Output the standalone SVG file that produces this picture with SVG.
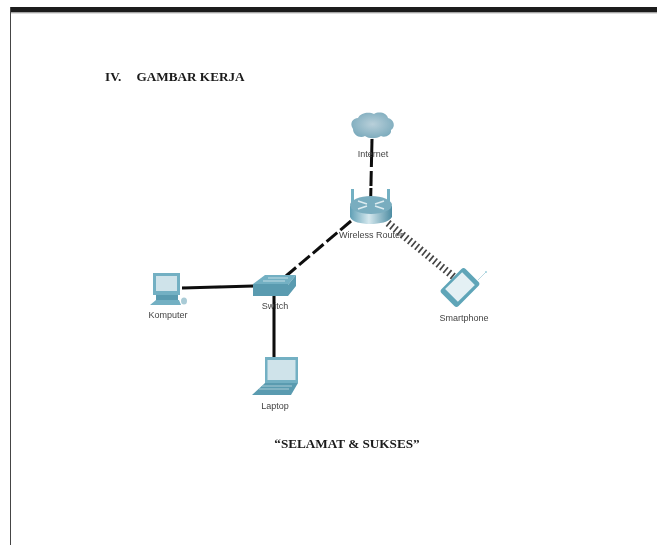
<svg xmlns="http://www.w3.org/2000/svg" width="657" height="545" viewBox="0 0 657 545">
<defs>
<style>
.lbl{font-family:"Liberation Sans",Arial,sans-serif;font-size:9px;fill:#444;text-anchor:middle}
.head{font-family:"Liberation Serif","Times New Roman",serif;font-size:13.2px;font-weight:bold;fill:#1a1a1a}
.line{stroke:#0c0c0c;stroke-width:3;fill:none}
.dk{fill:#5a9bb0}.md{fill:#73b0c3}.lt{fill:#cfe3ea}
</style>
<linearGradient id="rt" x1="0" x2="1" y1="0" y2="0"><stop offset="0" stop-color="#5f9fb5"/><stop offset=".45" stop-color="#d5e8ee"/><stop offset="1" stop-color="#4d8ca2"/></linearGradient>
<radialGradient id="cl" cx=".5" cy=".45" r=".6"><stop offset="0" stop-color="#b9d0da"/><stop offset="1" stop-color="#79a9bb"/></radialGradient>
<filter id="soft" x="-5%" y="-5%" width="110%" height="110%"><feGaussianBlur stdDeviation="0.4"/></filter>
</defs>
<rect width="657" height="545" fill="#fff"/>
<g filter="url(#soft)">
<g id="page">
<rect x="10" y="7" width="647" height="5.500" fill="#1f1f1f"/>
<rect x="10" y="12.500" width="647" height="1" fill="#bdbdbd"/>
<rect x="10" y="7" width="1" height="538" fill="#444"/>
</g>
<g id="connectors">
<path class="line" d="M372 139L370.700 197" stroke-dasharray="28 4 15 2 9"/>
<path class="line" d="M351 221L286 276" stroke-dasharray="14 4"/>
<path class="line" d="M182 288L254 286"/>
<path class="line" d="M274 296V357"/>
<path d="M388 223L454 277" stroke="#444" stroke-width="7.500" stroke-dasharray="1.700 2.900" fill="none"/>
</g>
<g id="internet">
<path fill="url(#cl)" d="M353 129C349 123 353 118 358 118C361 112 370 112 374 114C379 111 387 113 388 118C394 119 396 127 391 130C392 135 385 138 381 136C376 139 369 139 365 136C360 139 353 135 353 129Z"/>
<text class="lbl" x="373" y="157">Internet</text>
</g>
<g id="router">
<path class="md" d="M351 189H354V203H351ZM387 189H390V203H387Z"/>
<path fill="url(#rt)" d="M350 206V217C352 222 361 224 370 224C380 224 389 222 392 217V206Z"/>
<ellipse cx="371" cy="205" rx="21" ry="9" fill="#79adbf"/>
<path d="M358 201L367 204M384 201L375 204M358 209L367 206M384 209L375 206" stroke="#dcebf0" stroke-width="1.500"/>
<text class="lbl" x="371" y="238">Wireless Router</text>
</g>
<g id="switch">
<path class="md" d="M253 284L265 275H296L288 285Z"/>
<path class="dk" d="M253 284H288V296H253ZM288 285L296 275V286L288 296Z"/>
<path d="M263 281H285M268 278H288" stroke="#c4dee6" stroke-width="1"/>
<text class="lbl" x="275" y="309">Switch</text>
</g>
<g id="computer">
<path class="md" d="M153 273H180V295H153Z"/>
<path class="lt" d="M156 276H177V291H156Z"/>
<path class="dk" d="M156 295H178V300H156Z"/>
<path class="md" d="M150 305L156 300H179L181 305Z"/>
<ellipse cx="184" cy="301" rx="3" ry="3.500" fill="#a9cbd6"/>
<text class="lbl" x="168" y="318">Komputer</text>
</g>
<g id="laptop">
<path class="md" d="M265 357H298V383H265Z"/>
<path class="lt" d="M267.500 360H295.500V380H267.500Z"/>
<path class="dk" d="M265 383H298L291 395H252Z"/>
<path d="M262 386H292M259 389H289" stroke="#a9cbd6" stroke-width="1"/>
<text class="lbl" x="275" y="409">Laptop</text>
</g>
<g id="smartphone">
<path d="M478 280L486 272" stroke="#bcd9e2" stroke-width="1"/>
<circle cx="486" cy="272" r="1" fill="#9fd0dc"/>
<rect x="448" y="270.500" width="24" height="34" rx="3" transform="rotate(45 460 287.500)" fill="#5fa5b8"/>
<rect x="451" y="275" width="18" height="24" transform="rotate(45 460 287)" fill="#e4f0f4"/>
<text class="lbl" x="464" y="321">Smartphone</text>
</g>
<text class="head" x="105" y="81"><tspan>IV.</tspan><tspan x="136.500">GAMBAR KERJA</tspan></text>
<text class="head" x="347" y="448" text-anchor="middle">“SELAMAT &amp; SUKSES”</text>
</g>
</svg>
